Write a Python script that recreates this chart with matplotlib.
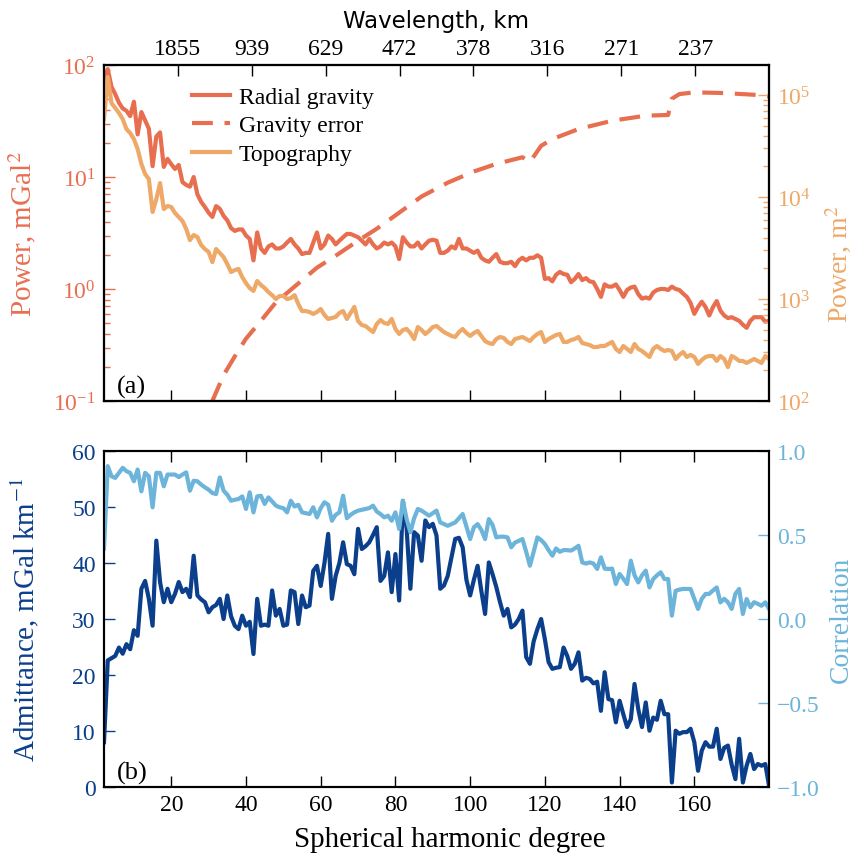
import numpy as np
import matplotlib
matplotlib.use('Agg')
import matplotlib.pyplot as plt

plt.rcParams['font.family'] = 'Liberation Serif'
plt.rcParams['mathtext.fontset'] = 'stix'

# spherical harmonic degree 2..180
degree = np.arange(2, 181)

# radial gravity power, mGal^2
radial = [75, 92, 64, 55, 46, 41, 39, 35, 47, 24,
          38, 32, 27, 12.5, 23, 25, 12.3, 14.5, 13, 11.8,
          12.8, 9.0, 8.5, 8.2, 10, 7.0, 6.0, 5.4, 4.8, 4.4,
          5.5, 5.2, 4.5, 4.1, 3.5, 3.3, 3.4, 3.4, 3.0, 2.8,
          1.8, 3.2, 2.3, 2.1, 2.4, 2.5, 2.3, 2.3, 2.4, 2.6,
          2.8, 2.5, 2.3, 2.05, 2.1, 2.1, 2.6, 3.2, 2.3, 2.5,
          3.0, 2.8, 2.5, 2.7, 2.9, 3.1, 3.1, 3.0, 2.9, 2.7,
          2.5, 2.8, 2.5, 2.3, 2.4, 2.6, 2.5, 2.6, 2.4, 1.85,
          2.9, 2.6, 2.4, 2.4, 2.6, 2.3, 2.5, 2.7, 2.75, 2.7,
          2.1, 2.1, 2.2, 2.4, 2.3, 2.8, 2.3, 2.3, 2.2, 2.1,
          2.2, 1.9, 1.8, 1.75, 1.9, 2.05, 1.75, 1.7, 1.7, 1.75,
          1.6, 1.8, 1.9, 1.8, 1.9, 1.9, 2.0, 1.9, 1.23, 1.25,
          1.17, 1.34, 1.42, 1.36, 1.34, 1.15, 1.23, 1.36, 1.2, 1.25,
          1.17, 1.15, 1.0, 0.85, 1.1, 1.05, 1.05, 1.1, 0.98, 0.85,
          0.98, 1.03, 1.05, 0.9, 0.82, 0.84, 0.82, 0.93, 0.98, 1.0,
          1.0, 0.98, 1.05, 1.0, 0.98, 0.91, 0.85, 0.75, 0.6, 0.69,
          0.77, 0.69, 0.58, 0.69, 0.78, 0.64, 0.58, 0.55, 0.56, 0.54,
          0.52, 0.48, 0.45, 0.52, 0.56, 0.56, 0.56, 0.51, 0.52]

# topography power, m^2
topo = [58200, 150000, 83600, 74700, 66700, 58200, 46400, 42400, 37000, 29600,
        21100, 16800, 15000, 7130, 9550, 13700, 7620, 8160, 7980, 6970,
        6370, 5820, 4860, 3780, 4240, 4050, 3380, 3090, 2890, 2300,
        3090, 2820, 2580, 2200, 1840, 1920, 1970, 1640, 1430, 1280,
        1200, 1500, 1370, 1280, 1170, 1090, 1000, 1070, 1070, 1000,
        1020, 1090, 893, 762, 762, 746, 713, 746, 798, 697,
        637, 651, 667, 729, 762, 637, 729, 836, 608, 556,
        543, 508, 474, 569, 622, 582, 569, 637, 508, 454,
        497, 508, 464, 405, 531, 497, 454, 486, 531, 543,
        508, 474, 454, 434, 424, 474, 508, 464, 434, 464,
        486, 434, 387, 370, 362, 405, 424, 415, 379, 362,
        405, 415, 424, 405, 387, 424, 454, 474, 379, 405,
        424, 444, 454, 379, 379, 396, 405, 424, 370, 362,
        354, 338, 338, 346, 346, 362, 379, 324, 302, 346,
        324, 302, 362, 324, 309, 289, 270, 324, 346, 324,
        309, 316, 309, 258, 283, 302, 270, 283, 270, 231,
        252, 270, 276, 276, 247, 276, 258, 215, 276, 264,
        247, 247, 236, 247, 258, 247, 236, 276, 258]

# gravity error power, mGal^2
err_degree = [28, 31, 34, 37, 40, 44, 48, 53, 59, 64, 70, 75, 81, 87, 94,
              101, 107, 114, 116, 119, 122, 129, 138, 147, 153, 154, 156,
              160, 168, 177, 180]
err_power = [0.052, 0.1, 0.17, 0.25, 0.36, 0.52, 0.76, 1.05, 1.55, 1.98,
             2.7, 3.45, 4.8, 6.7, 8.9, 11.2, 13.1, 15.0, 13.6, 19.0, 21.8,
             26.8, 31.8, 35.3, 35.8, 50, 55, 57, 56.2, 54, 52.5]

# admittance, mGal/km
admit = [8, 22.6, 23.0, 23.4, 24.9, 23.8, 25.5, 24.6, 28, 27,
         35.4, 36.8, 33.6, 28.8, 44.0, 36.6, 33.0, 35.4, 33.0, 34.5,
         36.6, 34.8, 35.4, 33.9, 41.3, 34.2, 33.5, 33.0, 31.2, 32.1,
         32.5, 33.6, 30.0, 34.2, 30.5, 28.8, 28.2, 30.6, 28.8, 29.5,
         23.75, 33.6, 28.8, 29, 28.8, 35.1, 30.6, 31.8, 28.8, 29,
         35.1, 34.8, 29.1, 34.2, 32.1, 32.4, 38.6, 39.5, 35.9, 40,
         45.2, 33.6, 37.7, 40, 43.7, 39.8, 39.5, 38.0, 46.1, 42.5,
         43, 43.7, 45, 46.4, 36.8, 37.7, 41.9, 34.8, 41.6, 33.3,
         51.1, 46.1, 35.4, 45.5, 44.9, 40.4, 47.6, 46.4, 47.0, 44.9,
         35.4, 36, 37.7, 41, 44.3, 44.5, 42.8, 37, 34.2, 37,
         39.5, 35, 30.9, 40.1, 38, 35.7, 33, 30.6, 31.8, 28.5,
         29, 30, 31.5, 23.2, 22.0, 26, 28.2, 30, 26.4, 22.3,
         21.1, 21.3, 21.4, 24.9, 23.4, 21.1, 22, 24.05, 19.0, 19.5,
         19.3, 18.5, 18.8, 13.6, 20.5, 15.7, 15.5, 11.55, 15.4, 13,
         10.7, 12.1, 18.4, 13.9, 10.7, 15.1, 10.05, 12.4, 12, 15.4,
         13.0, 13.0, 0.8, 10.05, 9.5, 9.8, 9.8, 10.4, 8, 2.9,
         6.5, 8.0, 7.2, 7.2, 10.4, 5.0, 7, 7.4, 4, 1.4,
         8.6, 0.8, 3.8, 5.9, 3.2, 4.1, 3.8, 4.1, 0.2]

# correlation
corr = [0.42, 0.91, 0.85, 0.84, 0.87, 0.90, 0.88, 0.87, 0.82, 0.89,
        0.76, 0.87, 0.85, 0.665, 0.87, 0.87, 0.79, 0.86, 0.86, 0.86,
        0.845, 0.86, 0.873, 0.764, 0.823, 0.82, 0.80, 0.784, 0.77, 0.75,
        0.744, 0.843, 0.764, 0.74, 0.704, 0.71, 0.714, 0.73, 0.655, 0.754,
        0.635, 0.73, 0.734, 0.685, 0.724, 0.70, 0.675, 0.665, 0.66, 0.635,
        0.704, 0.67, 0.68, 0.635, 0.63, 0.625, 0.665, 0.605, 0.66, 0.695,
        0.68, 0.585, 0.62, 0.635, 0.734, 0.60, 0.62, 0.635, 0.645, 0.65,
        0.655, 0.66, 0.675, 0.64, 0.625, 0.605, 0.615, 0.585, 0.635, 0.536,
        0.704, 0.595, 0.516, 0.60, 0.655, 0.645, 0.63, 0.615, 0.63, 0.645,
        0.575, 0.565, 0.555, 0.565, 0.575, 0.60, 0.625, 0.55, 0.476, 0.546,
        0.565, 0.53, 0.476, 0.595, 0.56, 0.486, 0.49, 0.49, 0.486, 0.427,
        0.455, 0.465, 0.476, 0.40, 0.317, 0.40, 0.486, 0.47, 0.446, 0.41,
        0.377, 0.42, 0.40, 0.41, 0.41, 0.407, 0.42, 0.436, 0.337, 0.33,
        0.337, 0.33, 0.298, 0.367, 0.30, 0.298, 0.30, 0.208, 0.268, 0.24,
        0.208, 0.347, 0.26, 0.218, 0.26, 0.288, 0.188, 0.238, 0.26, 0.278,
        0.238, 0.238, 0.02, 0.168, 0.175, 0.179, 0.179, 0.179, 0.12, 0.06,
        0.12, 0.149, 0.15, 0.17, 0.188, 0.099, 0.12, 0.10, 0.06, 0.15,
        0.179, 0.03, 0.119, 0.07, 0.10, 0.09, 0.079, 0.099, 0.06]

deg_ticks = [20, 40, 60, 80, 100, 120, 140, 160]
wl_labels = ['1855', '939', '629', '472', '378', '316', '271', '237']

c_grav = '#E86E50'
c_topo = '#EEA868'
c_adm = '#0B3F8C'
c_cor = '#6CB4DA'

tick_fs = 17
lab_fs = 21
lw = 3.0

fig = plt.figure(figsize=(8.54, 8.54), dpi=100)

# ---- (a) power spectra ----
ax1 = fig.add_axes([0.1218, 0.5293, 0.7787, 0.3934])
ax1r = ax1.twinx()
ax1t = ax1.twiny()

l1, = ax1.plot(degree, radial, color=c_grav, lw=lw)
l2, = ax1.plot(err_degree, err_power, color=c_grav, lw=lw, dashes=(5, 2.8))
l3, = ax1r.plot(degree, topo, color=c_topo, lw=lw)

ax1.set_yscale('log')
ax1.set_ylim(1e-1, 1e2)
ax1r.set_yscale('log')
ax1r.set_ylim(1e2, 1.97e5)
ax1.set_xlim(2, 180)
ax1.set_xticks(deg_ticks)
ax1.tick_params(axis='x', direction='in', length=8, width=1, labelbottom=False)
ax1.tick_params(axis='y', which='major', direction='in', length=8, width=1,
                colors=c_grav, labelsize=tick_fs, pad=6)
ax1.tick_params(axis='y', which='minor', direction='in', length=4, width=1, colors=c_grav)
ax1r.tick_params(axis='y', which='major', direction='in', length=8, width=1,
                 colors=c_topo, labelsize=tick_fs, pad=6)
ax1r.tick_params(axis='y', which='minor', direction='in', length=4, width=1, colors=c_topo)

ax1t.set_xlim(0, 180)
ax1t.set_xticks(deg_ticks)
ax1t.set_xticklabels(wl_labels)
ax1t.tick_params(axis='x', direction='in', length=8, width=1, labelsize=tick_fs, pad=4)
ax1t.set_xlabel('Wavelength, km', fontfamily='DejaVu Sans', fontsize=16.5, labelpad=8)

ax1.set_ylabel('Power, mGal$^2$', color=c_grav, fontsize=lab_fs)
ax1.yaxis.set_label_coords(-0.1, 0.5)
ax1r.set_ylabel('Power, m$^2$', color=c_topo, fontsize=20, rotation=90)
ax1r.yaxis.set_label_coords(1.083, 0.41)

ax1.text(0.02, 0.025, '(a)', transform=ax1.transAxes, fontsize=19)
ax1.legend([l1, l2, l3], ['Radial gravity', 'Gravity error', 'Topography'],
           loc='upper left', bbox_to_anchor=(0.1, 1.0), frameon=False,
           fontsize=17, handlelength=1.6, labelspacing=0.3, handletextpad=0.4)

# ---- (b) admittance and correlation ----
ax2 = fig.add_axes([0.1218, 0.0773, 0.7787, 0.3934])
ax2r = ax2.twinx()

ax2.plot(degree, admit, color=c_adm, lw=lw)
ax2r.plot(degree, corr, color=c_cor, lw=lw)

ax2.set_xlim(2, 180)
ax2.set_ylim(0, 60)
ax2r.set_ylim(-1, 1)
ax2.set_xticks(deg_ticks)
ax2.set_yticks([0, 10, 20, 30, 40, 50, 60])
ax2r.set_yticks([-1.0, -0.5, 0.0, 0.5, 1.0])
ax2.tick_params(axis='x', direction='in', length=8, width=1, top=True,
                labelsize=tick_fs, pad=5)
ax2.tick_params(axis='y', direction='in', length=8, width=1, colors=c_adm,
                labelsize=tick_fs, pad=6)
ax2r.tick_params(axis='y', direction='in', length=8, width=1, colors=c_cor,
                 labelsize=tick_fs, pad=6)

ax2.set_xlabel('Spherical harmonic degree', fontsize=lab_fs)
ax2.xaxis.set_label_coords(0.52, -0.115)
ax2.set_ylabel('Admittance, mGal km$^{-1}$', color=c_adm, fontsize=lab_fs)
ax2.yaxis.set_label_coords(-0.095, 0.5)
ax2r.set_ylabel('Correlation', color=c_cor, fontsize=20)
ax2r.yaxis.set_label_coords(1.09, 0.5)

ax2.text(0.02, 0.025, '(b)', transform=ax2.transAxes, fontsize=19)

for ax in (ax1, ax1r, ax1t, ax2, ax2r):
    for s in ax.spines.values():
        s.set_linewidth(1.5)

fig.savefig('out.png', dpi=100)
